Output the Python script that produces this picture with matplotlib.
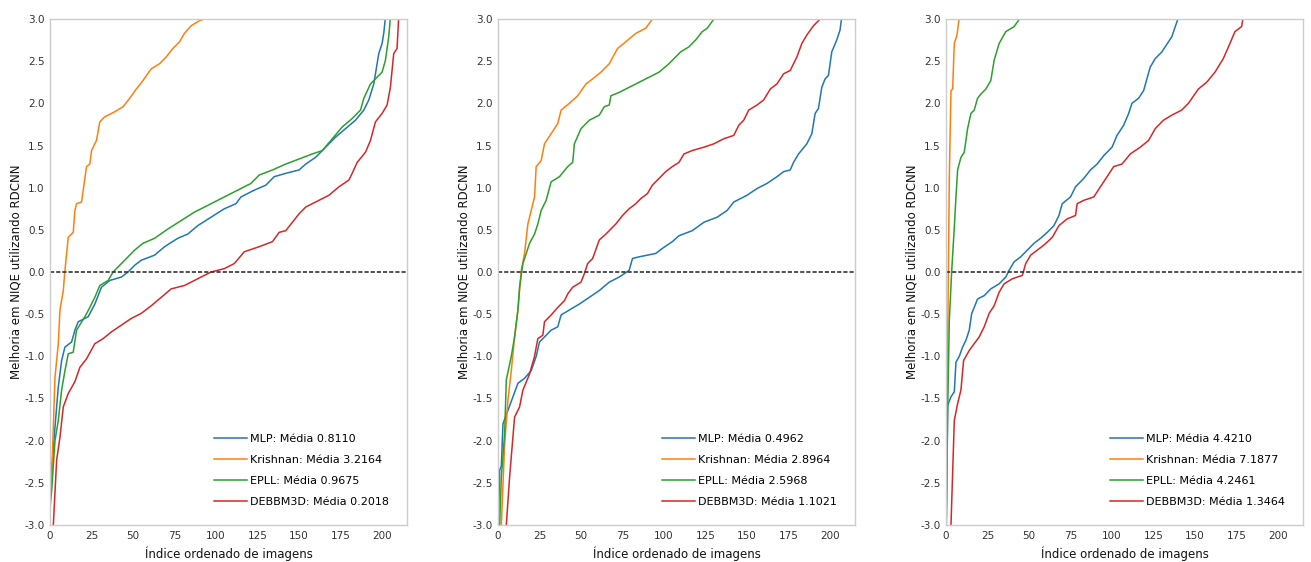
import numpy as np
import matplotlib.pyplot as plt

# Rótulos e médias de cada método, por painel
metodos = ["MLP", "Krishnan", "EPLL", "DEBBM3D"]
cores = ["#1f77b4", "#ff7f0e", "#2ca02c", "#d62728"]
medias = [
    ["0.8110", "3.2164", "0.9675", "0.2018"],
    ["0.4962", "2.8964", "2.5968", "1.1021"],
    ["4.4210", "7.1877", "4.2461", "1.3464"],
]

# ---------------- Painel 1 ----------------
p1_mlp_x = [0, 1, 3, 5, 7, 9, 13, 15, 17, 23, 27, 31, 36, 43, 47, 51, 55, 63, 69, 77, 83, 89, 97, 105,
            112, 115, 123, 130, 135, 142, 150, 154, 160, 166, 172, 178, 184, 189, 192, 195, 198, 200, 201, 202, 203]
p1_mlp_y = [-2.6, -2.35, -1.84, -1.36, -1.05, -0.89, -0.83, -0.69, -0.59, -0.53, -0.38, -0.18, -0.10, -0.06,
            0.0, 0.08, 0.14, 0.20, 0.30, 0.40, 0.45, 0.55, 0.65, 0.75, 0.81, 0.89, 0.97, 1.03, 1.13, 1.17, 1.21,
            1.28, 1.36, 1.48, 1.60, 1.70, 1.80, 1.92, 2.04, 2.23, 2.59, 2.71, 2.83, 3.02, 3.3]
p1_kri_x = [0, 1, 3, 5, 6, 8, 9, 11, 14, 15, 16, 19, 22, 24, 25, 28, 30, 33, 39, 44, 48, 52, 56, 61, 66,
            70, 74, 78, 81, 85, 90, 96, 100]
p1_kri_y = [-2.6, -2.43, -1.25, -0.85, -0.45, -0.22, 0.02, 0.41, 0.47, 0.73, 0.81, 0.83, 1.25, 1.28, 1.44,
            1.56, 1.78, 1.84, 1.90, 1.96, 2.06, 2.17, 2.27, 2.41, 2.47, 2.55, 2.65, 2.73, 2.83, 2.92, 2.98,
            3.02, 3.2]
p1_epll_x = [0, 1, 3, 5, 7, 9, 11, 14, 16, 21, 24, 27, 30, 35, 38, 41, 45, 51, 56, 63, 71, 79, 87, 97, 105,
             113, 121, 126, 134, 142, 150, 158, 164, 170, 176, 182, 187, 189, 193, 196, 200, 202, 204, 205, 206]
p1_epll_y = [-2.8, -2.59, -2.0, -1.76, -1.40, -1.17, -0.97, -0.95, -0.69, -0.53, -0.42, -0.30, -0.16, -0.10,
             0.0, 0.06, 0.14, 0.26, 0.34, 0.40, 0.51, 0.61, 0.71, 0.81, 0.89, 0.97, 1.05, 1.15, 1.21, 1.28,
             1.34, 1.40, 1.44, 1.58, 1.72, 1.82, 1.92, 2.06, 2.23, 2.29, 2.37, 2.51, 2.79, 3.02, 3.3]
p1_deb_x = [1, 2, 4, 6, 8, 11, 15, 18, 22, 27, 32, 37, 43, 49, 55, 61, 67, 73, 81, 89, 97, 105, 111, 117,
            126, 134, 138, 142, 150, 154, 160, 168, 174, 180, 182, 185, 190, 193, 196, 200, 203, 205, 207,
            209, 210, 211]
p1_deb_y = [-3.3, -3.0, -2.23, -1.96, -1.60, -1.44, -1.30, -1.13, -1.03, -0.85, -0.79, -0.71, -0.63, -0.55,
            -0.49, -0.40, -0.30, -0.20, -0.16, -0.08, 0.0, 0.04, 0.10, 0.24, 0.30, 0.36, 0.47, 0.49, 0.69,
            0.77, 0.83, 0.91, 1.01, 1.09, 1.17, 1.30, 1.42, 1.56, 1.78, 1.88, 1.98, 2.19, 2.59, 2.65, 3.02, 3.3]

# ---------------- Painel 2 ----------------
p2_mlp_x = [0, 1, 2, 3, 6, 9, 12, 16, 20, 23, 25, 28, 32, 36, 38, 43, 49, 55, 61, 67, 73, 79, 81, 85, 95,
            99, 105, 109, 117, 124, 132, 138, 142, 150, 156, 162, 168, 172, 176, 178, 181, 186, 189, 191, 193,
            195, 197, 199, 201, 204, 206, 207, 208]
p2_mlp_y = [-3.2, -2.35, -2.3, -1.80, -1.64, -1.48, -1.32, -1.26, -1.17, -1.0, -0.83, -0.77, -0.69, -0.65,
            -0.51, -0.45, -0.38, -0.30, -0.22, -0.12, -0.06, 0.02, 0.16, 0.18, 0.22, 0.28, 0.36, 0.43, 0.49,
            0.59, 0.65, 0.73, 0.83, 0.91, 0.99, 1.05, 1.13, 1.19, 1.21, 1.30, 1.40, 1.52, 1.64, 1.88, 1.94,
            2.19, 2.29, 2.33, 2.61, 2.75, 2.87, 3.02, 3.3]
p2_kri_x = [1, 2, 4, 6, 8, 10, 12, 14, 16, 18, 20, 22, 23, 26, 28, 32, 36, 38, 43, 48, 53, 57, 62, 67, 72,
            77, 83, 89, 93, 95]
p2_kri_y = [-3.3, -3.0, -2.04, -1.52, -1.17, -0.77, -0.45, 0.02, 0.22, 0.57, 0.73, 0.89, 1.25, 1.32, 1.52,
            1.64, 1.76, 1.92, 2.0, 2.09, 2.23, 2.29, 2.37, 2.47, 2.65, 2.73, 2.83, 2.89, 3.0, 3.2]
p2_epll_x = [0, 1, 2, 4, 5, 8, 10, 12, 13, 15, 17, 19, 22, 24, 26, 29, 32, 37, 42, 45, 46, 50, 55, 61, 64,
             67, 68, 73, 79, 85, 91, 97, 103, 110, 115, 119, 123, 126, 130, 132]
p2_epll_y = [-3.3, -3.0, -2.43, -1.92, -1.28, -1.0, -0.77, -0.45, -0.18, 0.10, 0.22, 0.34, 0.45, 0.57,
             0.73, 0.85, 1.07, 1.13, 1.25, 1.30, 1.52, 1.70, 1.80, 1.86, 1.96, 1.98, 2.09, 2.13, 2.19, 2.25,
             2.31, 2.37, 2.47, 2.61, 2.67, 2.75, 2.85, 2.89, 3.0, 3.2]
p2_deb_x = [4, 5, 7, 8, 10, 13, 15, 19, 22, 24, 27, 28, 32, 36, 40, 42, 45, 50, 52, 54, 57, 61, 65, 68, 71,
            75, 79, 83, 86, 90, 93, 97, 101, 105, 109, 112, 117, 124, 130, 136, 142, 145, 148, 151, 156, 160,
            164, 168, 172, 176, 180, 183, 186, 190, 194, 196]
p2_deb_y = [-3.3, -3.0, -2.43, -2.19, -1.72, -1.60, -1.40, -1.21, -1.0, -0.79, -0.75, -0.59, -0.51, -0.42,
            -0.34, -0.26, -0.18, -0.12, -0.02, 0.10, 0.16, 0.38, 0.45, 0.51, 0.57, 0.67, 0.75, 0.81, 0.87,
            0.93, 1.03, 1.11, 1.19, 1.25, 1.30, 1.40, 1.44, 1.48, 1.52, 1.58, 1.62, 1.74, 1.80, 1.92, 1.98,
            2.04, 2.17, 2.23, 2.35, 2.39, 2.55, 2.71, 2.81, 2.92, 3.0, 3.2]

# ---------------- Painel 3 ----------------
p3_mlp_x = [0, 1, 3, 5, 6, 8, 10, 12, 14, 15.5, 17, 19, 23, 27, 32, 36, 38, 41, 45, 49, 53, 57, 61, 65, 68,
            70, 75, 78, 83, 87, 91, 95, 100, 103, 107, 110, 112, 116, 119, 123, 126, 130, 134, 136, 140, 141]
p3_mlp_y = [-3.3, -1.58, -1.48, -1.42, -1.07, -1.0, -0.89, -0.81, -0.69, -0.49, -0.42, -0.32, -0.28, -0.20,
            -0.14, -0.06, 0.02, 0.12, 0.18, 0.26, 0.34, 0.40, 0.47, 0.55, 0.67, 0.81, 0.89, 1.01, 1.11, 1.21,
            1.28, 1.38, 1.48, 1.62, 1.74, 1.88, 2.0, 2.06, 2.15, 2.43, 2.53, 2.61, 2.73, 2.79, 3.02, 3.3]
p3_kri_x = [0, 1, 2, 3, 4, 5, 6.6, 8, 9]
p3_kri_y = [-3.3, -0.85, 1.13, 2.15, 2.17, 2.71, 2.81, 3.02, 3.3]
p3_epll_x = [0, 1, 2, 3.4, 5, 6, 7, 9, 11, 13, 15, 17, 19, 21, 24, 27, 29, 32, 36, 41, 45, 46]
p3_epll_y = [-3.3, -1.64, -0.57, 0.0, 0.53, 0.89, 1.21, 1.36, 1.42, 1.70, 1.88, 1.92, 2.06, 2.11, 2.17,
             2.27, 2.51, 2.71, 2.85, 2.91, 3.02, 3.3]
p3_deb_x = [2, 3, 5, 7, 9, 10.6, 14, 17, 20, 23, 26, 29, 32, 35, 40, 46, 48, 51, 55, 59, 64, 68, 73, 78, 79,
            83, 89, 93, 97, 101, 106, 111, 117, 122, 126, 131, 136, 142, 146, 152, 157, 162, 167, 171, 174,
            178, 179, 180]
p3_deb_y = [-3.3, -3.0, -1.76, -1.56, -1.40, -1.05, -0.93, -0.85, -0.77, -0.65, -0.49, -0.40, -0.24, -0.14,
            -0.08, -0.04, 0.10, 0.20, 0.26, 0.32, 0.41, 0.55, 0.63, 0.67, 0.81, 0.85, 0.89, 1.01, 1.13, 1.25,
            1.28, 1.40, 1.48, 1.56, 1.70, 1.80, 1.86, 1.92, 2.0, 2.17, 2.25, 2.37, 2.53, 2.71, 2.85, 2.91,
            3.02, 3.3]

paineis = [
    [(p1_mlp_x, p1_mlp_y), (p1_kri_x, p1_kri_y), (p1_epll_x, p1_epll_y), (p1_deb_x, p1_deb_y)],
    [(p2_mlp_x, p2_mlp_y), (p2_kri_x, p2_kri_y), (p2_epll_x, p2_epll_y), (p2_deb_x, p2_deb_y)],
    [(p3_mlp_x, p3_mlp_y), (p3_kri_x, p3_kri_y), (p3_epll_x, p3_epll_y), (p3_deb_x, p3_deb_y)],
]

plt.rcParams['font.family'] = ['DejaVu Sans']
fig = plt.figure(figsize=(13.11, 5.62), dpi=100)

esquerdas = [50, 498, 946]
for k, curvas in enumerate(paineis):
    ax = fig.add_axes([esquerdas[k] / 1311, 37 / 562, 357 / 1311, 506 / 562])
    for (xs, ys), nome, cor, media in zip(curvas, metodos, cores, medias[k]):
        ax.plot(xs, ys, color=cor, lw=1.1, label=f"{nome}: Média {media}")
    ax.axhline(0, color="#333333", lw=1.2, linestyle=(0, (2.5, 1.2)))
    ax.set_xlim(0, 215)
    ax.set_ylim(-3, 3)
    ax.set_xticks(np.arange(0, 201, 25))
    ax.set_yticks(np.arange(-3, 3.01, 0.5))
    ax.yaxis.set_major_formatter(plt.FormatStrFormatter('%.1f'))
    ax.tick_params(length=0, labelsize=7.5, colors="#333333", pad=4)
    for s in ax.spines.values():
        s.set_color("#cccccc")
        s.set_linewidth(1.0)
    ax.set_xlabel("Índice ordenado de imagens", fontsize=8.5, color="#111111", labelpad=4)
    ax.set_ylabel("Melhoria em NIQE utilizando RDCNN", fontsize=8.5, color="#111111", labelpad=1)
    ax.legend(loc="lower right", frameon=False, fontsize=8, labelspacing=1.0,
              handlelength=3.0, handletextpad=0.3, borderaxespad=1.2)

fig.savefig("out.png", dpi=100)
